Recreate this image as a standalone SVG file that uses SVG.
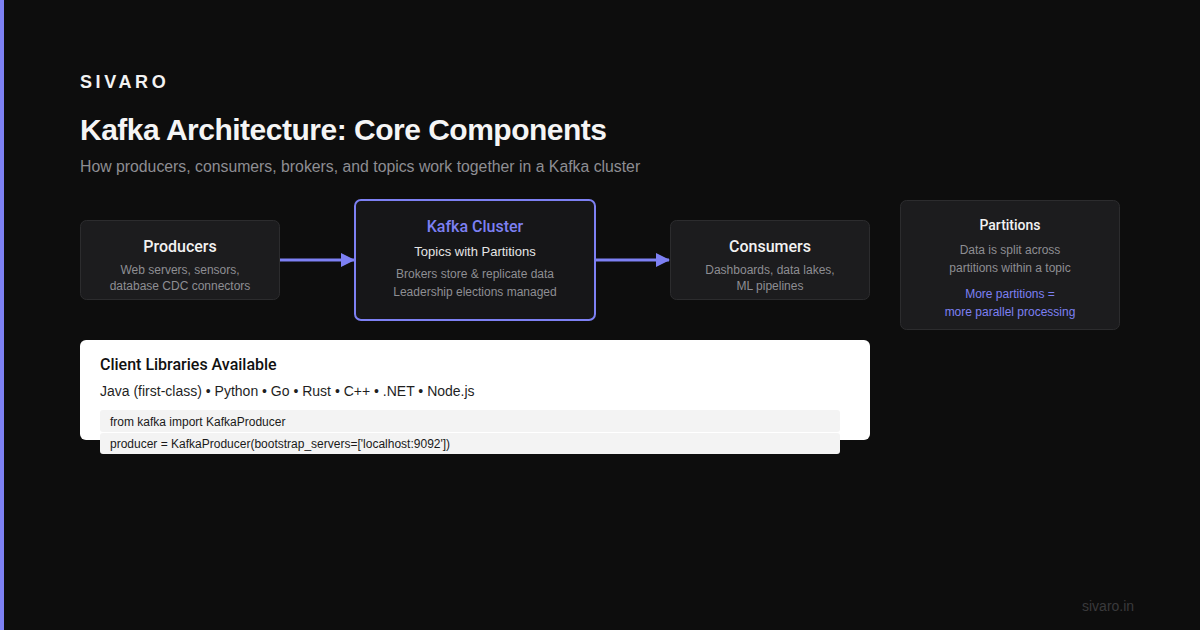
<svg xmlns="http://www.w3.org/2000/svg" width="1200" height="630" viewBox="0 0 1200 630">
<defs>
<marker id="arr" markerWidth="14" markerHeight="14" refX="13" refY="7" orient="auto" markerUnits="userSpaceOnUse" viewBox="0 0 14 14">
<path d="M0,0 L14,7 L0,14 z" fill="#7d80f3"/>
</marker>
<style>
text{font-family:"Liberation Sans",Arial,sans-serif}
.box{fill:#1c1c1e;stroke:#2c2c2e;stroke-width:1}
.h{font-family:Roboto,"Liberation Sans",sans-serif;fill:#f2f2f2;font-size:16px;font-weight:500;text-anchor:middle}
.s{fill:#8e8e93;font-size:12px;text-anchor:middle}
.acc{fill:#7d80f3}
.code{fill:#1a1a1a;font-size:12px}
</style>
</defs>
<rect width="1200" height="630" fill="#0d0d0d"/>
<rect x="0" y="0" width="4" height="630" fill="#7d80f3"/>
<text x="80" y="88" fill="#f2f2f2" font-size="18" font-weight="600" letter-spacing="3.6">SIVARO</text>
<text x="80" y="140" fill="#f5f5f5" font-size="30" font-weight="600" letter-spacing="-0.5">Kafka Architecture: Core Components</text>
<text x="80" y="172" fill="#8e8e93" font-size="15.8">How producers, consumers, brokers, and topics work together in a Kafka cluster</text>
<g id="connectors">
<line x1="280" y1="260" x2="354" y2="260" stroke="#7d80f3" stroke-width="3" marker-end="url(#arr)"/>
<line x1="595" y1="260" x2="669" y2="260" stroke="#7d80f3" stroke-width="3" marker-end="url(#arr)"/>
</g>
<g id="producers">
<rect class="box" x="80.500" y="220.500" width="199" height="79" rx="6"/>
<text class="h" x="180" y="252">Producers</text>
<text class="s" x="180" y="274">Web servers, sensors,</text>
<text class="s" x="180" y="290">database CDC connectors</text>
</g>
<g id="kafka-cluster">
<rect x="355" y="200" width="240" height="120" rx="6" fill="#161618" stroke="#7d80f3" stroke-width="2"/>
<text class="h acc" x="475" y="232">Kafka Cluster</text>
<text x="475" y="256" fill="#e5e5e5" font-size="13" text-anchor="middle">Topics with Partitions</text>
<text class="s" x="475" y="278">Brokers store &amp; replicate data</text>
<text class="s" x="475" y="296">Leadership elections managed</text>
</g>
<g id="consumers">
<rect class="box" x="670.500" y="220.500" width="199" height="79" rx="6"/>
<text class="h" x="770" y="252">Consumers</text>
<text class="s" x="770" y="274">Dashboards, data lakes,</text>
<text class="s" x="770" y="290">ML pipelines</text>
</g>
<g id="partitions">
<rect class="box" x="900.500" y="200.500" width="219" height="129" rx="6"/>
<text class="h" x="1010" y="230" style="font-size:14px">Partitions</text>
<text class="s" x="1010" y="254">Data is split across</text>
<text class="s" x="1010" y="272">partitions within a topic</text>
<text class="s acc" x="1010" y="298">More partitions =</text>
<text class="s acc" x="1010" y="316">more parallel processing</text>
</g>
<g id="client-libraries">
<rect x="80" y="340" width="790" height="100" rx="6" fill="#ffffff"/>
<text x="100" y="370" fill="#111" font-size="16" font-weight="500" style="font-family:Roboto,'Liberation Sans',sans-serif">Client Libraries Available</text>
<text x="100" y="396" fill="#1f1f1f" font-size="14">Java (first-class) • Python • Go • Rust • C++ • .NET • Node.js</text>
<rect x="100" y="410" width="740" height="22" rx="3" fill="#f3f3f3"/>
<rect x="100" y="433" width="740" height="21" rx="3" fill="#f3f3f3"/>
<text class="code" x="110" y="426">from kafka import KafkaProducer</text>
<text class="code" x="110" y="448">producer = KafkaProducer(bootstrap_servers=['localhost:9092'])</text>
</g>
<text x="1082" y="611" fill="#3a3a3c" font-size="14">sivaro.in</text>
</svg>
